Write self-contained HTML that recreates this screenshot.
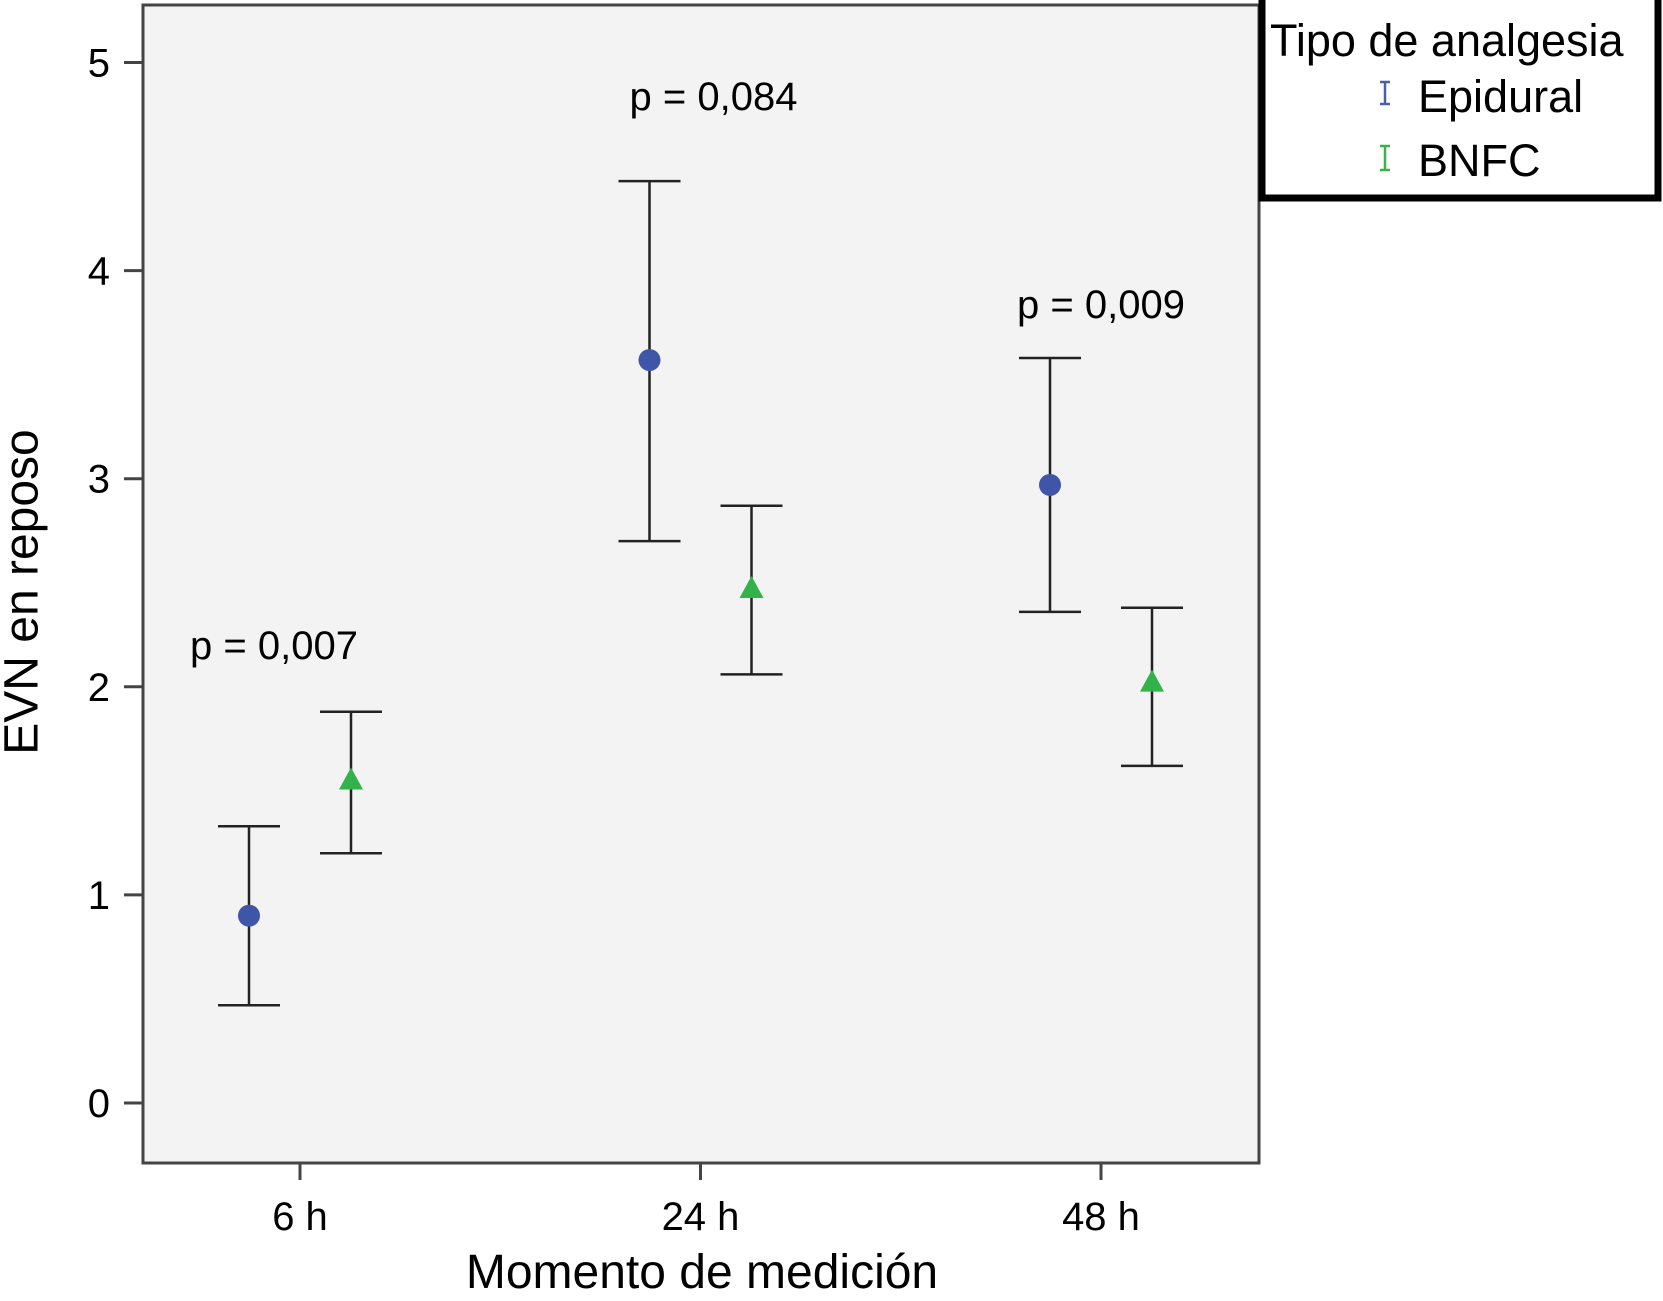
<!DOCTYPE html>
<html><head><meta charset="utf-8"><style>
html,body{margin:0;padding:0;background:#fff}
svg{display:block;font-family:"Liberation Sans",Arial,sans-serif}
</style></head><body>
<svg width="1663" height="1301" viewBox="0 0 1663 1301">
<rect x="143" y="5" width="1116" height="1158" fill="#f3f3f3" stroke="#444" stroke-width="3"/>
<g id="yaxis"></g>
<g id="xaxis"></g>
<g id="marks"></g>
<text x="25" y="592" font-size="48" text-anchor="middle" transform="rotate(-90 25 592)" dominant-baseline="middle">EVN en reposo</text>
<text x="702" y="1288" font-size="48" text-anchor="middle">Momento de medición</text>
<g>
<rect x="1262" y="-4" width="396" height="202" fill="#fff" stroke="#000" stroke-width="7"/>
<text x="1270" y="56" font-size="45">Tipo de analgesia</text>
<g stroke="#4a5fa8" stroke-width="2.5"><line x1="1385" y1="82" x2="1385" y2="104"/><line x1="1380" y1="82" x2="1390" y2="82"/><line x1="1380" y1="104" x2="1390" y2="104"/></g>
<text x="1418" y="112" font-size="45">Epidural</text>
<g stroke="#3cb04a" stroke-width="2.5"><line x1="1385" y1="146" x2="1385" y2="170"/><line x1="1380" y1="146" x2="1390" y2="146"/><line x1="1380" y1="170" x2="1390" y2="170"/></g>
<text x="1418" y="176" font-size="45">BNFC</text>
</g>
</svg>
<script>
const categories=["6 h","24 h","48 h"];
const pLabels=["p = 0,007","p = 0,084","p = 0,009"];
const pY=[2.2,4.84,3.84];
const epiMean=[0.9,3.57,2.97];
const epiLow=[0.47,2.7,2.36];
const epiHigh=[1.33,4.43,3.58];
const bnfcMean=[1.55,2.47,2.02];
const bnfcLow=[1.2,2.06,1.62];
const bnfcHigh=[1.88,2.87,2.38];
const yTicks=[0,1,2,3,4,5];
const pDx=[-26,13,0];
const NS="http://www.w3.org/2000/svg";
const yS=v=>1103-208.1*v;
const xS=i=>300+400.5*i;
function mk(tag,attrs,parent,txt){const e=document.createElementNS(NS,tag);for(const k in attrs)e.setAttribute(k,attrs[k]);if(txt!==undefined)e.textContent=txt;parent.appendChild(e);return e;}
const ya=document.getElementById('yaxis'),xa=document.getElementById('xaxis'),mg=document.getElementById('marks');
yTicks.forEach(t=>{
 const l=mk('line',{x1:124,x2:143,y1:yS(t),y2:yS(t),stroke:'#444','stroke-width':3},ya);
 
 
 const tx=mk('text',{x:110,y:yS(t)+14,'font-size':40,'text-anchor':'end'},ya,String(t));
 
 
});
categories.forEach((c,i)=>{
 const l=mk('line',{x1:xS(i),x2:xS(i),y1:1163,y2:1180,stroke:'#444','stroke-width':3},xa);
 
 
 const tx=mk('text',{x:xS(i),y:1230,'font-size':40,'text-anchor':'middle'},xa,c);
 
 
 const p=mk('text',{x:xS(i)+pDx[i],y:yS(pY[i])+14,'font-size':40,'text-anchor':'middle'},mg,pLabels[i]);
 
 
});
function bar(x,lo,hi,name){
 const g=mk('g',{stroke:'#222','stroke-width':2.5},mg);
 
 
 mk('line',{x1:x,x2:x,y1:yS(lo),y2:yS(hi)},g);
 mk('line',{x1:x-31,x2:x+31,y1:yS(lo),y2:yS(lo)},g);
 mk('line',{x1:x-31,x2:x+31,y1:yS(hi),y2:yS(hi)},g);
}
categories.forEach((c,i)=>{
 const xe=xS(i)-51,xb=xS(i)+51;
 bar(xe,epiLow[i],epiHigh[i],'error-bar-epidural');
 bar(xb,bnfcLow[i],bnfcHigh[i],'error-bar-bnfc');
 const ci=mk('circle',{cx:xe,cy:yS(epiMean[i]),r:11,fill:'#3f55a8'},mg);
 
 
 const y=yS(bnfcMean[i]);
 const tr=mk('polygon',{points:`${xb},${y-13} ${xb-12},${y+9} ${xb+12},${y+9}`,fill:'#33b24a'},mg);
 
 
});
</script>
</body></html>
